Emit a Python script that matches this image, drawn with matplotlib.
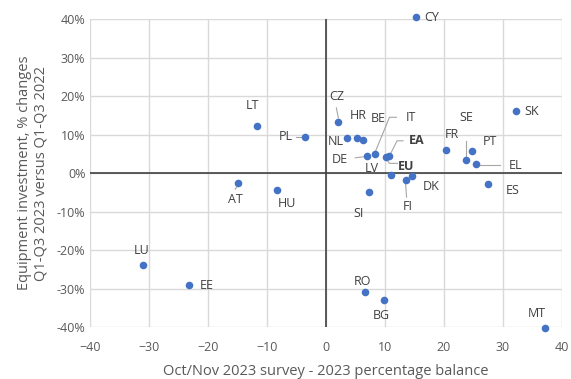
import matplotlib
matplotlib.use("Agg")
import matplotlib.pyplot as plt
from matplotlib.ticker import FuncFormatter

# Survey balance (x) vs. equipment investment change in % (y)
countries = ["CY", "SK", "LT", "PL", "CZ", "HR", "BE", "NL", "IT", "DE", "LV",
             "EA", "EU", "SI", "FI", "DK", "FR", "SE", "PT", "EL", "ES", "AT",
             "HU", "LU", "EE", "RO", "BG", "MT"]
survey_balance = [15.3, 32.2, -11.7, -3.6, 2.1, 5.2, 6.2, 3.6, 8.4, 7.0, 11.1,
                  10.7, 10.1, 7.3, 13.5, 14.6, 20.3, 23.8, 24.7, 25.4, 27.5, -14.9,
                  -8.3, -31.1, -23.2, 6.7, 9.9, 37.1]
investment_change = [40.6, 16.1, 12.2, 9.5, 13.3, 9.1, 8.7, 9.1, 4.9, 4.5, -0.5,
                     4.5, 4.1, -5.0, -1.8, -0.7, 6.1, 3.4, 5.8, 2.5, -2.9, -2.6,
                     -4.4, -23.8, -29.0, -30.9, -33.0, -40.3]
bold_labels = {"EA", "EU"}

x_ticks = [-40, -30, -20, -10, 0, 10, 20, 30, 40]
y_ticks = [-40, -30, -20, -10, 0, 10, 20, 30, 40]

# label placement: centre offset in pixels (dx, dy up) and optional leader line
label_offsets = {
    "CY": (16, -1), "SK": (16, 0), "LT": (-5, 21), "PL": (-19, 0),
    "CZ": (-2, 25), "HR": (2, 23), "BE": (16, 21), "NL": (-11, -3),
    "IT": (35, 37), "DE": (-27, -4), "LV": (-20, 7), "EA": (28, 15),
    "EU": (21, -9), "SI": (-10, -21), "FI": (2, -26), "DK": (19, -11),
    "FR": (6, 15), "SE": (0, 43), "PT": (18, 9), "EL": (40, -2),
    "ES": (25, -6), "AT": (-3, -16), "HU": (10, -13), "LU": (-1, 14),
    "EE": (17, -1), "RO": (-3, 11), "BG": (-3, -15), "MT": (-8, 15),
}
leaders = {
    "PL": [(-4, 0), (-9, 0)],
    "CZ": [(0, 4), (-2, 14)],
    "IT": [(0, 3), (14, 37), (21, 37)],
    "DE": [(-4, -1), (-12, -2)],
    "EA": [(2, 3), (8, 15), (14, 15)],
    "EU": [(1, -2), (4, -6), (12, -6)],
    "FI": [(0, -3), (1, -17)],
    "SE": [(0, 3), (0, 19)],
    "EL": [(3, -1), (24, -1)],
    "AT": [(-1, -3), (-3, -6)],
}

plt.rcParams["font.family"] = ["Open Sans", "DejaVu Sans"]

fig = plt.figure(figsize=(5.71, 3.79), dpi=100)
ax = fig.add_axes([90.3 / 571, 1 - 327.3 / 379, (561.7 - 90.3) / 571, (327.3 - 19) / 379])

ax.set_xlim(-40, 40)
ax.set_ylim(-40, 40)
ax.set_xticks(x_ticks)
ax.set_yticks(y_ticks)
ax.yaxis.set_major_formatter(FuncFormatter(lambda v, p: f"{v:.0f}%"))
ax.grid(True, color="#d9d9d9", linewidth=1.0)
ax.set_axisbelow(True)
for s in ax.spines.values():
    s.set_visible(False)
ax.tick_params(axis="x", length=0, labelsize=9, colors="#595959", pad=10)
ax.tick_params(axis="y", length=0, labelsize=9, colors="#595959", pad=3.5)
ax.axhline(0, color="#404040", linewidth=1.2, zorder=2)
ax.axvline(0, color="#404040", linewidth=1.2, zorder=2)

ax.scatter(survey_balance, investment_change, s=30, color="#4472C4",
           zorder=3, clip_on=False, linewidths=0)

fig.canvas.draw()
to_disp = ax.transData.transform
to_data = ax.transData.inverted().transform

for name, xv, yv in zip(countries, survey_balance, investment_change):
    px, py = to_disp((xv, yv))
    if name in leaders:
        pts = [to_data((px + dx, py + dy)) for dx, dy in leaders[name]]
        ax.plot([p[0] for p in pts], [p[1] for p in pts], color="#a6a6a6",
                linewidth=0.8, zorder=2, clip_on=False)
    dx, dy = label_offsets[name]
    ax.annotate(name, (xv, yv), xytext=(dx, dy), textcoords="offset pixels",
                ha="center", va="center", fontsize=9, color="#404040",
                fontweight="bold" if name in bold_labels else "normal",
                annotation_clip=False)

ax.set_xlabel("Oct/Nov 2023 survey - 2023 percentage balance",
              fontsize=10.5, color="#595959", labelpad=7)
ax.set_ylabel("Equipment investment, % changes\nQ1-Q3 2023 versus Q1-Q3 2022",
              fontsize=10.5, color="#595959", labelpad=6, linespacing=1.15)

fig.savefig("out.png", dpi=100)
